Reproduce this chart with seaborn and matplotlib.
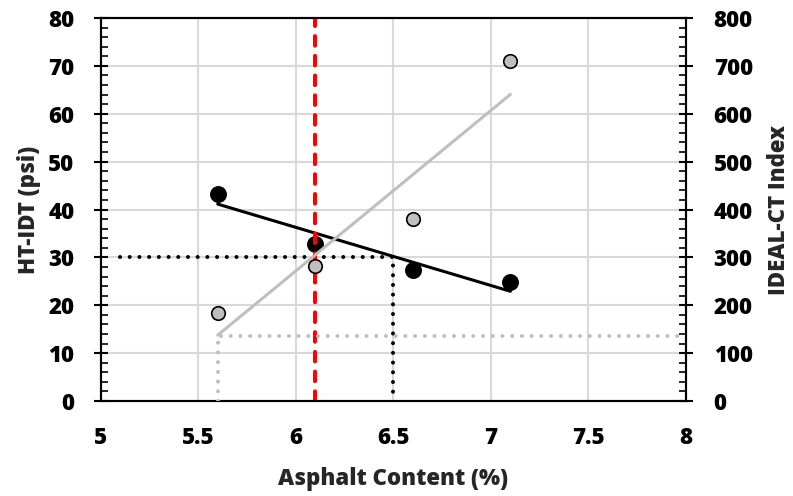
import numpy as np
import pandas as pd
import seaborn as sns
import matplotlib.pyplot as plt
from matplotlib.ticker import MultipleLocator

# data
asphalt = [5.6, 6.1, 6.6, 7.1]
ht_idt = [43.2, 32.8, 27.3, 24.8]
ideal_ct = [184, 282, 380, 710]

optimum_ac = 6.1
# guide lines (left axis: HT-IDT of 30 psi; right axis: CT index threshold)
idt_guide_x = [5.1, 6.5, 6.5]
idt_guide_y = [30, 30, 0]
ct_guide_x = [5.6, 5.6, 8.0]
ct_guide_y = [0, 136, 136]

df = pd.DataFrame({'ac': asphalt, 'idt': ht_idt, 'ct': ideal_ct})

sns.set_style('white')
plt.rcParams['font.family'] = ['Open Sans', 'DejaVu Sans']
wt = 'heavy'
fs = 16

fig = plt.figure(figsize=(7.93, 4.96), dpi=100)
ax = fig.add_axes([0.127, 0.1915, 0.738, 0.7722])
ax2 = ax.twinx()

grid_c = '#d9d9d9'
gray = '#bfbfbf'
dotted = (0, (0.01, 2.4))

# left axis: HT-IDT
ax.plot(idt_guide_x, idt_guide_y, color='black', lw=2.9, ls=dotted,
        dash_capstyle='round', zorder=3)
sns.regplot(data=df, x='ac', y='idt', scatter=False, ci=None, ax=ax,
            line_kws={'color': 'black', 'lw': 2.2, 'zorder': 4})
sns.scatterplot(data=df, x='ac', y='idt', ax=ax, color='black', s=125,
                edgecolor='black', linewidth=1, zorder=5)
ax.axvline(optimum_ac, color='#ff0000', lw=2.9, ls=(0, (2.4, 2.5)),
           dash_capstyle='round', zorder=6)

# right axis: IDEAL-CT
ax2.plot(ct_guide_x, ct_guide_y, color=gray, lw=2.9, ls=dotted,
         dash_capstyle='round', zorder=3)
sns.regplot(data=df, x='ac', y='ct', scatter=False, ci=None, ax=ax2,
            line_kws={'color': gray, 'lw': 2.2, 'zorder': 4})
sns.scatterplot(data=df, x='ac', y='ct', ax=ax2, color=gray, s=95,
                edgecolor='black', linewidth=1.2, zorder=5)

ax.set_xlim(5, 8)
ax.set_ylim(0, 80)
ax2.set_ylim(0, 800)

ax.xaxis.set_major_locator(MultipleLocator(0.5))
ax.xaxis.set_minor_locator(MultipleLocator(0.1))
ax.yaxis.set_major_locator(MultipleLocator(10))
ax.yaxis.set_minor_locator(MultipleLocator(2))
ax2.yaxis.set_major_locator(MultipleLocator(100))
ax2.yaxis.set_minor_locator(MultipleLocator(20))

ax.grid(True, which='major', color=grid_c, lw=1.5)
ax.set_axisbelow(True)

ax.xaxis.set_major_formatter(plt.FuncFormatter(lambda v, p: f'{v:g}'))

for a in (ax, ax2):
    for s in a.spines.values():
        s.set_color('black')
        s.set_linewidth(1.5)
    a.tick_params(which='major', direction='inout', length=10, width=1.5,
                  labelsize=fs, colors='black')
    a.tick_params(which='minor', direction='in', length=5, width=1.2,
                  colors='black')
ax.tick_params(axis='y', right=False, pad=14)
ax.tick_params(axis='x', top=False, which='both', pad=13)
ax2.tick_params(axis='y', left=False, pad=15)

ax.set_xlabel('Asphalt Content (%)', fontsize=fs, fontweight=wt, labelpad=12)
ax.set_ylabel('HT-IDT (psi)', fontsize=fs, fontweight=wt, labelpad=5)
ax2.set_ylabel('IDEAL-CT Index', fontsize=fs, fontweight=wt, labelpad=10)

for lab in ax.get_xticklabels() + ax.get_yticklabels() + ax2.get_yticklabels():
    lab.set_fontweight(wt)

fig.savefig('out.png', dpi=100)
